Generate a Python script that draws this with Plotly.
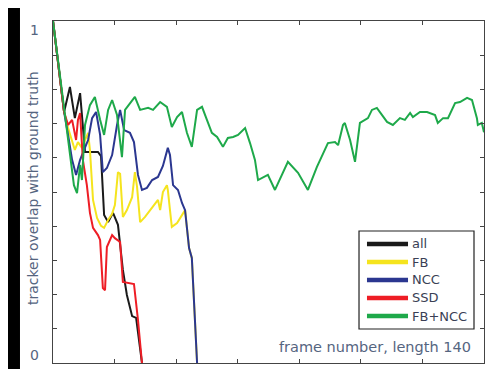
import plotly.graph_objects as go

# frame numbers / overlap values
all_x = [0, 3.6, 5.5, 7.1, 8.8, 9.7, 10.4, 14.6, 15.6, 16.6, 17.9, 19.5, 21.1, 22.7, 24.0, 25.7, 27.0, 28.9]
all_y = [1.0, 0.734, 0.807, 0.716, 0.789, 0.681, 0.617, 0.617, 0.605, 0.433, 0.412, 0.439, 0.404, 0.272, 0.199, 0.137, 0.132, 0.0]

fb_x = [0, 3.6, 4.9, 6.2, 7.1, 8.1, 9.4, 10.4, 11.4, 12.0, 13.0, 14.3, 15.6, 16.6, 17.9, 19.2, 20.1, 21.1,
        21.8, 22.7, 24.0, 25.7, 26.6, 27.3, 28.3, 29.9, 32.2, 34.1, 34.8, 35.7, 37.0, 37.3, 38.0, 38.6,
        40.3, 41.9, 42.9, 43.5, 44.2, 45.1, 45.8, 46.8]
fb_y = [1.0, 0.734, 0.687, 0.652, 0.623, 0.646, 0.629, 0.652, 0.673, 0.623, 0.477, 0.424, 0.401, 0.395,
        0.418, 0.436, 0.462, 0.558, 0.553, 0.427, 0.447, 0.485, 0.558, 0.515, 0.412, 0.427, 0.456, 0.477,
        0.447, 0.500, 0.520, 0.506, 0.447, 0.398, 0.409, 0.433, 0.447, 0.395, 0.336, 0.307, 0.184, 0.0]

ncc_x = [0, 3.6, 4.9, 6.2, 7.5, 8.8, 10.1, 11.4, 12.7, 14.0, 15.3, 16.2, 17.5, 19.2, 20.8, 21.8, 23.1,
         25.0, 26.3, 27.6, 28.9, 30.5, 32.2, 34.1, 35.7, 37.3, 38.0, 39.0, 40.6, 41.9, 42.9, 43.5, 44.2,
         45.1, 45.8, 46.8]
ncc_y = [1.0, 0.734, 0.667, 0.594, 0.550, 0.594, 0.623, 0.652, 0.716, 0.734, 0.667, 0.558, 0.570, 0.608,
         0.696, 0.740, 0.681, 0.673, 0.646, 0.550, 0.506, 0.512, 0.535, 0.544, 0.576, 0.629, 0.608, 0.520,
         0.506, 0.468, 0.447, 0.395, 0.336, 0.307, 0.184, 0.0]

ssd_x = [0, 3.6, 4.9, 6.2, 7.5, 8.1, 8.8, 9.7, 11.0, 12.0, 13.0, 14.6, 15.3, 16.2, 16.9, 17.5, 19.2,
         20.1, 21.8, 22.7, 26.3, 27.6, 28.9]
ssd_y = [1.0, 0.734, 0.696, 0.711, 0.652, 0.711, 0.731, 0.594, 0.520, 0.439, 0.395, 0.374, 0.360, 0.219,
         0.213, 0.339, 0.374, 0.365, 0.354, 0.237, 0.231, 0.126, 0.0]

fbncc_x = [0, 3.9, 5.5, 6.8, 7.8, 8.8, 9.4, 10.4, 12.0, 13.6, 15.3, 16.6, 17.9, 19.2, 20.8, 22.4, 23.4,
           26.6, 28.3, 30.9, 32.5, 34.8, 37.0, 38.6, 40.3, 41.9, 43.5, 45.1, 46.8, 48.4, 50.0, 51.6, 53.3,
           55.2, 56.8, 58.5, 60.1, 62.4, 64.0, 65.6, 66.6, 69.8, 72.1, 76.3, 79.6, 82.8, 85.7, 89.3, 91.6,
           92.6, 94.2, 94.8, 96.5, 98.1, 99.7, 102.3, 103.6, 105.2, 106.9, 108.5, 110.4, 112.7, 114.3,
           116.0, 116.9, 119.2, 121.5, 124.1, 125.0, 126.7, 128.3, 130.6, 132.2, 134.5, 136.1, 137.7,
           138.0, 139.3, 140.0]
fbncc_y = [1.0, 0.725, 0.623, 0.520, 0.497, 0.579, 0.535, 0.696, 0.754, 0.778, 0.711, 0.667, 0.740,
           0.769, 0.725, 0.602, 0.740, 0.778, 0.740, 0.746, 0.740, 0.763, 0.749, 0.690, 0.719, 0.734,
           0.673, 0.632, 0.740, 0.749, 0.711, 0.673, 0.661, 0.632, 0.658, 0.661, 0.667, 0.687, 0.643,
           0.594, 0.535, 0.550, 0.506, 0.588, 0.556, 0.506, 0.573, 0.643, 0.646, 0.637, 0.696, 0.702,
           0.652, 0.588, 0.702, 0.716, 0.740, 0.746, 0.725, 0.705, 0.696, 0.716, 0.711, 0.731, 0.719,
           0.734, 0.734, 0.725, 0.702, 0.716, 0.716, 0.760, 0.763, 0.775, 0.769, 0.716, 0.696, 0.702,
           0.675]

names = ['all', 'FB', 'NCC', 'SSD', 'FB+NCC']
colors = ['#1a1a1a', '#f5e41e', '#2b3790', '#ee1d25', '#1ea94a']
xs_list = [all_x, fb_x, ncc_x, ssd_x, fbncc_x]
ys_list = [all_y, fb_y, ncc_y, ssd_y, fbncc_y]

fig = go.Figure()
for name, xs, ys, col in zip(names, xs_list, ys_list, colors):
    fig.add_trace(go.Scatter(x=xs, y=ys, mode='lines', name=name, showlegend=False,
                             line=dict(color=col, width=2)))

txt = '#55657f'
axis = dict(showline=True, linecolor='#444', linewidth=1, mirror='ticks', ticks='inside',
            ticklen=4, tickcolor='#444', showgrid=False, zeroline=False, showticklabels=False)

# hand-drawn legend box (MATLAB style, long thick swatches)
shapes = [
    dict(type='rect', xref='paper', yref='paper', x0=-0.0766, x1=1.03, y0=-0.03, y1=1.04,
         fillcolor='white', line=dict(width=0), layer='below'),
    dict(type='rect', xref='paper', yref='paper', x0=0.71, x1=0.9768, y0=0.0994, y1=0.386,
         fillcolor='white', line=dict(color='#222', width=1.2)),
]
annotations = [
    dict(text='tracker overlap with ground truth', textangle=-90, xref='paper', yref='paper',
         x=-0.046, y=0.512, showarrow=False, xanchor='center', yanchor='middle'),
    dict(text='frame number, length 140', xref='paper', yref='paper', x=0.746, y=0.047,
         showarrow=False, xanchor='center', yanchor='middle', font=dict(size=14.5)),
    dict(text='1', xref='paper', yref='paper', x=-0.042, y=0.974, showarrow=False,
         xanchor='center', yanchor='middle'),
    dict(text='0', xref='paper', yref='paper', x=-0.044, y=0.022, showarrow=False,
         xanchor='center', yanchor='middle'),
]
row_y = [0.348, 0.2953, 0.2427, 0.1901, 0.1374]
for name, col, ry in zip(names, colors, row_y):
    shapes.append(dict(type='line', xref='paper', yref='paper', x0=0.7285, x1=0.8237, y0=ry, y1=ry,
                       line=dict(color=col, width=4.5)))
    annotations.append(dict(text=name, xref='paper', yref='paper', x=0.829, y=ry, showarrow=False,
                            xanchor='left', yanchor='middle', font=dict(size=13, color='#3a3f55')))

# page body adds an 8px offset, so the figure is 8px smaller and margins shrink to match
fig.update_layout(
    width=487, height=361,
    paper_bgcolor='black', plot_bgcolor='white',
    margin=dict(l=45, r=11, t=13, b=6),
    font=dict(family='DejaVu Sans', size=14, color=txt),
    xaxis=dict(range=[0, 140], tick0=0, dtick=20, **axis),
    yaxis=dict(range=[0, 1], tick0=0, dtick=0.1, **axis),
    showlegend=False,
    shapes=shapes,
    annotations=annotations,
)

fig.write_html("out.html")
